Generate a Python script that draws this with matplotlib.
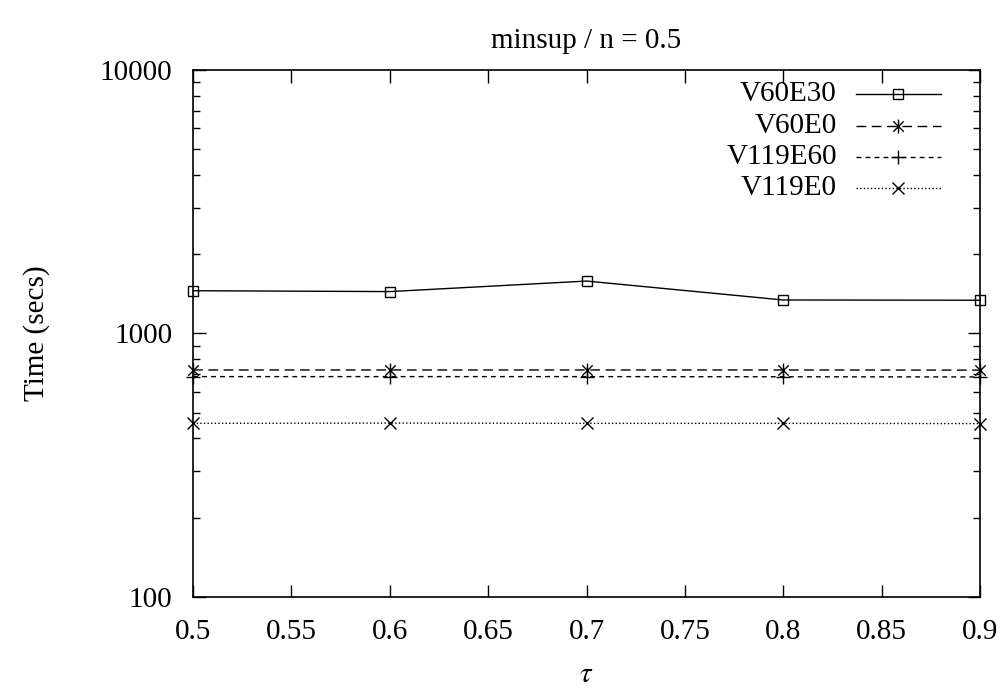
import matplotlib
matplotlib.use("Agg")
import matplotlib.pyplot as plt
from matplotlib.path import Path
from matplotlib.ticker import LogLocator, NullFormatter, FixedLocator

plt.rcParams["font.family"] = ["Liberation Serif", "DejaVu Serif"]
plt.rcParams["mathtext.fontset"] = "stix"

# --- data --------------------------------------------------------------
tau = [0.5, 0.6, 0.7, 0.8, 0.9]
v60e30 = [1453, 1442, 1581, 1340, 1337]
v60e0 = [727, 727, 727, 727, 726]
v119e60 = [686, 686, 686, 685, 684]
v119e0 = [456, 457, 456, 456, 455]

labels = ["V60E30", "V60E0", "V119E60", "V119E0"]
x_ticks = [0.5, 0.55, 0.6, 0.65, 0.7, 0.75, 0.8, 0.85, 0.9]
x_tick_labels = ["0.5", "0.55", "0.6", "0.65", "0.7", "0.75", "0.8", "0.85", "0.9"]

FS = 21

# gnuplot style "asterisk": plus and cross overlaid
star = Path(
    [(0, -1), (0, 1), (-0.75, -0.75), (0.75, 0.75), (-0.75, 0.75), (0.75, -0.75)],
    [Path.MOVETO, Path.LINETO, Path.MOVETO, Path.LINETO, Path.MOVETO, Path.LINETO],
)

styles = [
    dict(ls="-", marker="s", ms=7, mfc="none"),
    dict(ls=(0, (7, 4)), marker=star, ms=10),
    dict(ls=(0, (3.5, 3)), marker="+", ms=10),
    dict(ls=(0, (1, 1.6)), marker="x", ms=8),
]

fig = plt.figure(figsize=(10.07, 6.9), dpi=100)
ax = fig.add_axes([0.1917, 0.1348, 0.7815, 0.7638])

for ys, st in zip([v60e30, v60e0, v119e60, v119e0], styles):
    ax.plot(tau, ys, color="black", lw=1.0, mew=1.0, clip_on=False, **st)

ax.set_yscale("log")
ax.set_ylim(100, 10000)
ax.set_xlim(0.5, 0.9)
ax.xaxis.set_major_locator(FixedLocator(x_ticks))
ax.set_xticklabels(x_tick_labels)
ax.yaxis.set_major_locator(LogLocator(base=10))
ax.yaxis.set_minor_locator(LogLocator(base=10, subs=range(2, 10)))
ax.yaxis.set_minor_formatter(NullFormatter())
ax.set_yticks([100, 1000, 10000])
ax.set_yticklabels(["100", "1000", "10000"])

ax.tick_params(which="both", direction="in", top=True, right=True,
               labelsize=FS, width=1.0)
ax.tick_params(axis="x", which="major", length=9, pad=16)
ax.tick_params(axis="y", which="major", length=9, pad=15)
ax.tick_params(axis="y", which="minor", length=5)
for s in ax.spines.values():
    s.set_linewidth(1.2)

ax.set_title("minsup / n = 0.5", fontsize=FS, pad=16)
ax.set_ylabel("Time (secs)", fontsize=FS, labelpad=36)
ax.set_xlabel(r"$\tau$", fontsize=FS, labelpad=12)

# legend drawn gnuplot-like: right-aligned text, sample line on the right
row_y = [0.954, 0.894, 0.835, 0.776]
for lab, st, y in zip(labels, styles, row_y):
    ax.text(0.818, y, lab, transform=ax.transAxes, ha="right", va="center",
            fontsize=FS)
    ax.plot([0.842, 0.896, 0.950], [y, y, y], transform=ax.transAxes,
            color="black", lw=1.0, mew=1.0, markevery=[1], **st)

fig.savefig("out.png", dpi=100)
